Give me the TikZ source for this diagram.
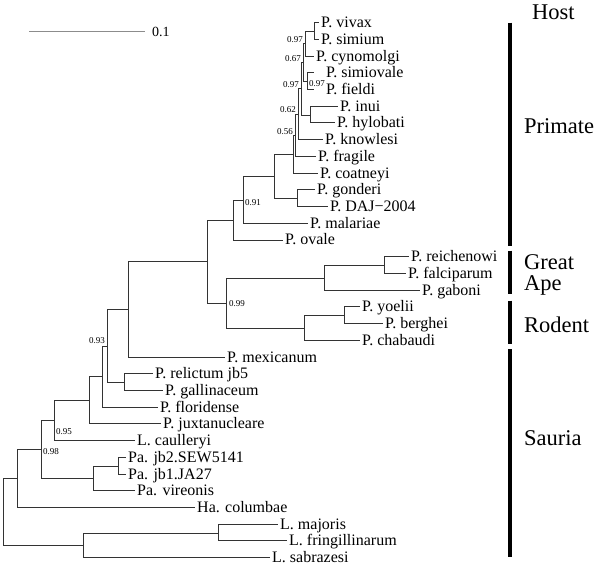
\documentclass[tikz,border=0pt]{standalone}
\usepackage{fontspec}
\setmainfont{Liberation Serif}
\usetikzlibrary{positioning}
\definecolor{branchgray}{HTML}{333333}
\definecolor{scalegray}{HTML}{8C8C8C}

\begin{document}
\begin{tikzpicture}[x=1pt, y=-1pt,
    branch/.style={line width=0.9pt, branchgray},
    taxon/.style={anchor=west, inner sep=0pt, text height=10pt, text depth=0pt,
        font=\fontsize{16}{16}\selectfont},
    boot/.style={inner sep=0pt, font=\fontsize{9}{9}\selectfont},
    bootl/.style={boot, anchor=east},
    bootr/.style={boot, anchor=west},
    host/.style={anchor=west, inner sep=0pt, text height=15pt, text depth=0pt,
        font=\fontsize{22.5}{22.5}\selectfont},
    hostbar/.style={line width=3.2pt, black}]
    \useasboundingbox (0,0) rectangle (600,564);

    % Scale bar
    \coordinate (sbL) at (29,32);
    \coordinate (sbR) at (145,32);
    \draw[line width=1pt, scalegray] (sbL) -- (sbR);
    \node[anchor=west, inner sep=0pt, font=\fontsize{14}{14}\selectfont] (sbLbl) at ([xshift=7]sbR) {0.1};

    % Internal nodes (x, y)
    \coordinate (nVS) at (314,31.36);
    \coordinate (nA)  at (305,43.90);
    \coordinate (nSF) at (307,81.52);
    \coordinate (nB)  at (303,62.71);
    \coordinate (nIH) at (310,114.96);
    \coordinate (nC)  at (301,88.84);
    \coordinate (nD)  at (298,114.44);
    \coordinate (nE)  at (295,135.60);
    \coordinate (nF)  at (293,154.54);
    \coordinate (nGD) at (297,198.56);
    \coordinate (nG)  at (274,176.55);
    \coordinate (nH)  at (243,200.10);
    \coordinate (nI)  at (233,220.23);
    \coordinate (nRF) at (384,265.44);
    \coordinate (nGA) at (324,277.98);
    \coordinate (nYB) at (344,315.60);
    \coordinate (nRo) at (304,328.14);
    \coordinate (nK)  at (226,303.06);
    \coordinate (nJ)  at (207,261.65);
    \coordinate (nL)  at (128,309.52);
    \coordinate (nRG) at (124,382.48);
    \coordinate (nM)  at (107,346.00);
    \coordinate (nN)  at (102,376.78);
    \coordinate (nO)  at (89,400.53);
    \coordinate (nP)  at (54,420.77);
    \coordinate (nJB) at (118,466.08);
    \coordinate (nPa) at (93,478.62);
    \coordinate (nQ)  at (41,449.69);
    \coordinate (nR)  at (17,478.79);
    \coordinate (nMF) at (218,532.96);
    \coordinate (nLe) at (83,545.50);
    \coordinate (root) at (3,512.14);

    % Inner branches
    \foreach \up/\down in {nA/nVS, nB/nA, nB/nSF, nC/nB, nC/nIH, nD/nC, nE/nD,
        nF/nE, nG/nF, nG/nGD, nH/nG, nI/nH, nGA/nRF, nRo/nYB, nK/nGA, nK/nRo,
        nJ/nI, nJ/nK, nL/nJ, nM/nL, nM/nRG, nN/nM, nO/nN, nP/nO, nPa/nJB,
        nQ/nP, nQ/nPa, nR/nQ, nLe/nMF, root/nR, root/nLe}
        \draw[branch] (\up) |- (\down);

    % Taxa: parent / tip x / label gap / name / text
    \foreach \up/\tip/\gap/\name/\txt [count=\i from 0] in {
        nVS/319/2/vivax/P. vivax,
        nVS/319/2/simium/P. simium,
        nA/314/2/cynomolgi/P. cynomolgi,
        nSF/314/12/simiovale/P. simiovale,
        nSF/314/12/fieldi/P. fieldi,
        nIH/338/2/inui/P. inui,
        nIH/335/2/hylobati/P. hylobati,
        nD/323/2/knowlesi/P. knowlesi,
        nE/316/2/fragile/P. fragile,
        nF/318/2/coatneyi/P. coatneyi,
        nGD/315/2/gonderi/P. gonderi,
        nGD/328/2/daj/P. DAJ−2004,
        nH/308/2/malariae/P. malariae,
        nI/283/2/ovale/P. ovale,
        nRF/409/2/reichenowi/P. reichenowi,
        nRF/406/2/falciparum/P. falciparum,
        nGA/420/2/gaboni/P. gaboni,
        nYB/360/2/yoelii/P. yoelii,
        nYB/383/2/berghei/P. berghei,
        nRo/360/2/chabaudi/P. chabaudi,
        nL/225/2/mexicanum/P. mexicanum,
        nRG/153/2/relictum/P. relictum jb5,
        nRG/163/2/gallinaceum/P. gallinaceum,
        nN/158/2/floridense/P. floridense,
        nO/161/2/juxtanucleare/P. juxtanucleare,
        nP/135/2/caulleryi/L. caulleryi,
        nJB/126/2/jbtwo/Pa. jb2.SEW5141,
        nJB/126/2/jbone/Pa. jb1.JA27,
        nPa/135/2/vireonis/Pa. vireonis,
        nR/195/2/columbae/Ha. columbae,
        nMF/278/2/majoris/L. majoris,
        nMF/287/2/fringillinarum/L. fringillinarum,
        nLe/270/2/sabrazesi/L. sabrazesi} {
        \coordinate (\name) at (\tip,{22.6+16.72*\i});
        \draw[branch] (\up) |- (\name);
        \node[taxon] (\name-lbl) at ([xshift=\gap]\name) {\txt};
    }

    % Support values
    \node[bootl] (bA) at ([shift={(-2,-4.5)}]nA) {0.97};
    \node[bootl] (bB) at ([shift={(-2,-4.5)}]nB) {0.67};
    \node[bootr] (bSF) at ([shift={(2,2)}]nSF) {0.97};
    \node[bootl] (bC) at ([shift={(-2,-4.5)}]nC) {0.97};
    \node[bootl] (bD) at ([shift={(-2,-4.5)}]nD) {0.62};
    \node[bootl] (bE) at ([shift={(-2,-4.5)}]nE) {0.56};
    \node[bootr] (bH) at ([shift={(2,2.5)}]nH) {0.91};
    \node[bootr] (bK) at ([shift={(3,1)}]nK) {0.99};
    \node[bootl] (bM) at ([shift={(-2,-5)}]nM) {0.93};
    \node[bootr] (bP) at ([shift={(2,11)}]nP) {0.95};
    \node[bootr] (bQ) at ([shift={(2,2)}]nQ) {0.98};

    % Host groups
    \node[host] (hostLbl) at (532,11.7) {Host};
    \draw[hostbar] (510,22.7) -- (510,246);
    \node[host] (primate) at (524,126) {Primate};
    \draw[hostbar] (510,250.7) -- (510,294);
    \node[host] (great) at (524,261.7) {Great};
    \node[host] (ape) at (524,283) {Ape};
    \draw[hostbar] (510,300.7) -- (510,344);
    \node[host] (rodent) at (524,325) {Rodent};
    \draw[hostbar] (510,349.3) -- (510,557.3);
    \node[host] (sauria) at (524,438) {Sauria};

\end{tikzpicture}
\end{document}
